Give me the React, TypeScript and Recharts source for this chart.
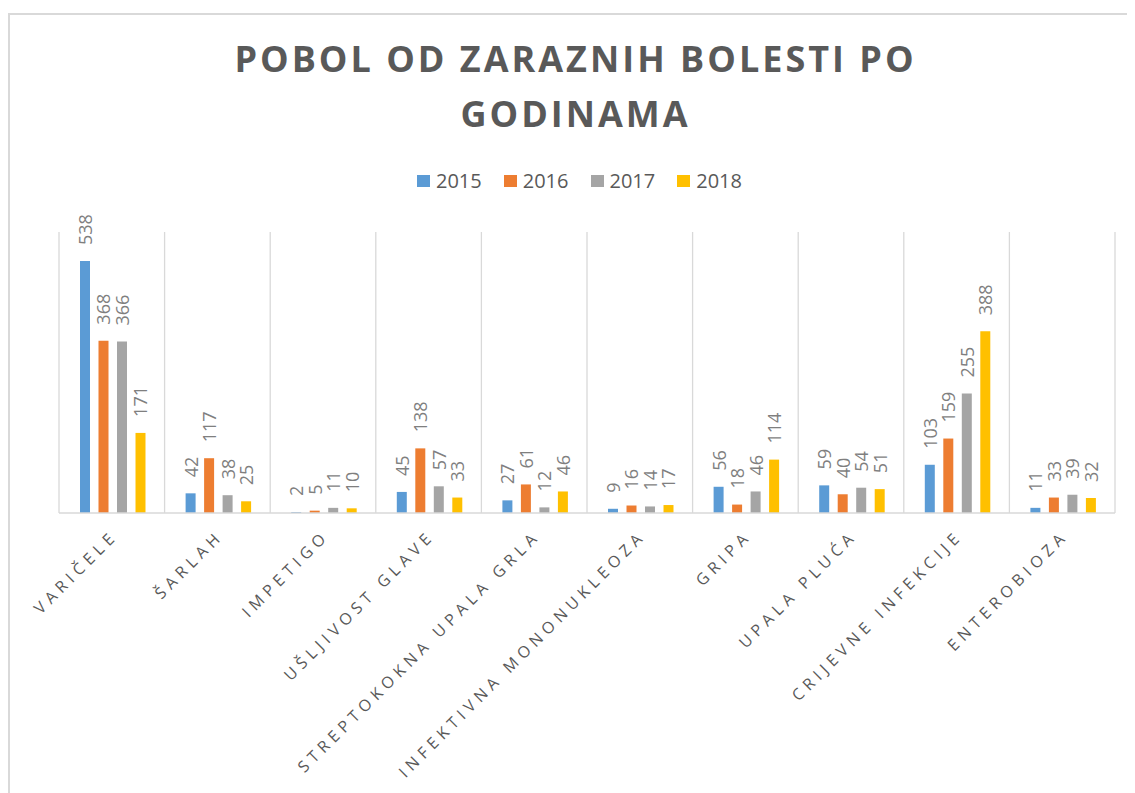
import React from "react";
import { BarChart, Bar, XAxis, YAxis, CartesianGrid, LabelList } from "recharts";

const categories = [
  "VARIČELE",
  "ŠARLAH",
  "IMPETIGO",
  "UŠLJIVOST GLAVE",
  "STREPTOKOKNA UPALA GRLA",
  "INFEKTIVNA MONONUKLEOZA",
  "GRIPA",
  "UPALA PLUĆA",
  "CRIJEVNE INFEKCIJE",
  "ENTEROBIOZA",
];
const values2015 = [538, 42, 2, 45, 27, 9, 56, 59, 103, 11];
const values2016 = [368, 117, 5, 138, 61, 16, 18, 40, 159, 33];
const values2017 = [366, 38, 11, 57, 12, 14, 46, 54, 255, 39];
const values2018 = [171, 25, 10, 33, 46, 17, 114, 51, 388, 32];
const seriesNames = ["2015", "2016", "2017", "2018"];
const seriesColors = ["#5B9BD5", "#ED7D31", "#A5A5A5", "#FFC000"];
const titleLines = ["POBOL OD ZARAZNIH BOLESTI PO", "GODINAMA"];

const data = categories.map((name, i) => ({
  name,
  "2015": values2015[i],
  "2016": values2016[i],
  "2017": values2017[i],
  "2018": values2018[i],
}));

const FONT = "'Open Sans', 'DejaVu Sans', sans-serif";

const CategoryTick = (props: any) => {
  const { x, y, payload } = props;
  const ax = x + 7;
  const ay = y + 16;
  return (
    <text
      x={ax}
      y={ay}
      transform={`rotate(-45, ${ax}, ${ay})`}
      textAnchor="end"
      fill="#595959"
      fontSize={16}
      fontFamily={FONT}
      style={{ letterSpacing: "5px" }}
    >
      {payload.value}
    </text>
  );
};

const ValueLabel = (props: any) => {
  const { x, y, width, value } = props;
  const cx = x + width / 2;
  const ty = y - 16;
  return (
    <text
      x={cx}
      y={ty}
      transform={`rotate(-90, ${cx}, ${ty})`}
      textAnchor="start"
      dominantBaseline="central"
      fill="#7F7F7F"
      fontSize={18}
      fontFamily={FONT}
    >
      {value}
    </text>
  );
};

const gridGenerator = ({ offset }: any) => {
  const n = categories.length;
  const xs: number[] = [];
  for (let i = 0; i <= n; i++) xs.push(offset.left + (i * offset.width) / n);
  return xs;
};

export default function App() {
  return (
    <div
      style={{
        position: "relative",
        width: 1127,
        height: 785,
        overflow: "hidden",
        background: "#fff",
        fontFamily: FONT,
      }}
    >
      <div
        style={{
          position: "absolute",
          left: 0,
          top: 5,
          width: 1300,
          height: 1000,
          border: "2px solid #D9D9D9",
          boxSizing: "border-box",
        }}
      />
      <div
        style={{
          position: "absolute",
          left: 4,
          top: 23,
          width: 1127,
          textAlign: "center",
          color: "#595959",
          fontSize: 36,
          fontWeight: 700,
          lineHeight: "55px",
          letterSpacing: "3px",
        }}
      >
        {titleLines.map((t) => (
          <div key={t}>{t}</div>
        ))}
      </div>
      <div
        style={{
          position: "absolute",
          left: 409,
          top: 161,
          display: "flex",
          alignItems: "center",
          height: 24,
          color: "#595959",
          fontSize: 20,
          lineHeight: "24px",
        }}
      >
        {seriesNames.map((s, i) => (
          <div key={s} style={{ display: "flex", alignItems: "center", marginRight: i < 3 ? 22 : 0 }}>
            <span style={{ display: "inline-block", width: 13, height: 12, background: seriesColors[i], marginRight: 6 }} />
            <span>{s}</span>
          </div>
        ))}
      </div>
      <div style={{ position: "absolute", left: 0, top: 0 }}>
        <BarChart
          width={1127}
          height={785}
          data={data}
          margin={{ top: 224, right: 20, bottom: 0, left: 51 }}
          barCategoryGap={21}
          barGap={8.5}
        >
          <CartesianGrid
            horizontal={false}
            vertical={true}
            stroke="#D9D9D9"
            strokeWidth={1.3}
            verticalCoordinatesGenerator={gridGenerator}
          />
          <XAxis
            dataKey="name"
            interval={0}
            height={280}
            tickLine={false}
            axisLine={{ stroke: "#D9D9D9", strokeWidth: 1.3 }}
            tick={<CategoryTick />}
          />
          <YAxis hide domain={[0, 600]} />
          {seriesNames.map((s, i) => (
            <Bar key={s} dataKey={s} fill={seriesColors[i]} isAnimationActive={false}>
              <LabelList dataKey={s} content={<ValueLabel />} />
            </Bar>
          ))}
        </BarChart>
      </div>
    </div>
  );
}
